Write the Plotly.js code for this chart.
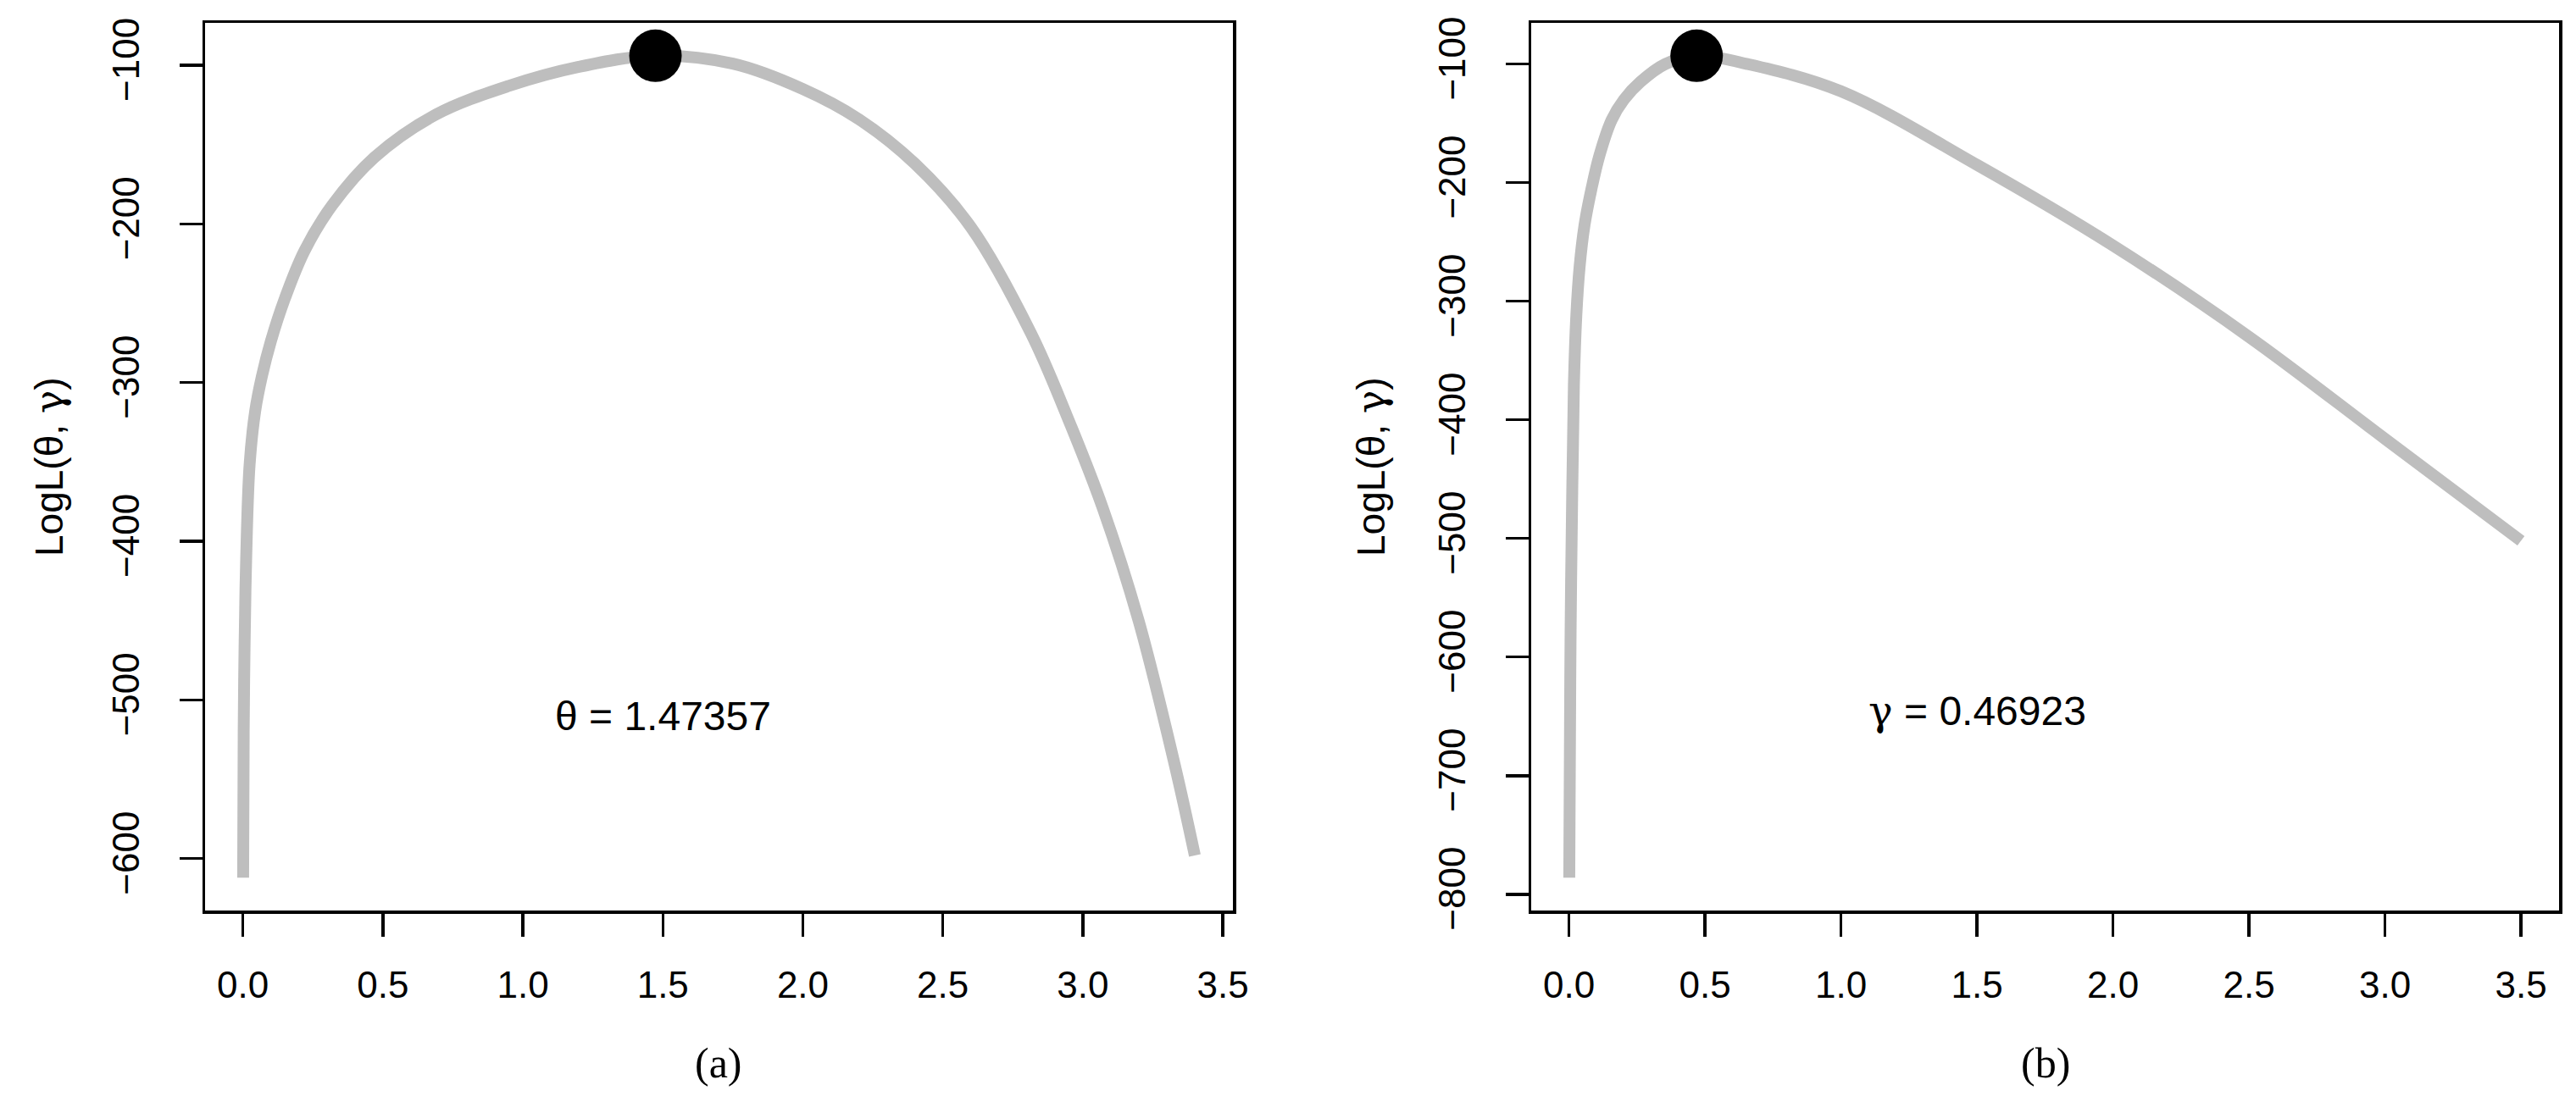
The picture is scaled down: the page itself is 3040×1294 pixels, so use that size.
<!DOCTYPE html>
<html>
<head>
<meta charset="utf-8">
<script src="https://cdn.plot.ly/plotly-3.0.1.min.js"></script>
<style>
  body { margin: 0; background: #fff; }
  #chart { width: 3040px; height: 1294px; }
</style>
</head>
<body>
<div id="chart"></div>
<script>
// profile log-likelihood in theta (panel a)
let thetaVals = [0.001, 0.003, 0.006, 0.012, 0.024, 0.044, 0.068, 0.10, 0.15, 0.22, 0.32, 0.47, 0.69, 0.95, 1.20, 1.47, 1.75, 2.00, 2.20, 2.40, 2.60, 2.815, 2.943, 3.071, 3.199, 3.327, 3.40];
let logLTheta = [-612, -520, -468, -410, -352, -318, -296, -274, -247, -217, -188, -158, -131, -113, -101, -94, -99, -115, -134, -162, -202, -269, -321, -379, -450, -540, -598];

// profile log-likelihood in gamma (panel b)
let gammaVals = [0.001, 0.003, 0.006, 0.012, 0.018, 0.027, 0.039, 0.057, 0.082, 0.112, 0.157, 0.202, 0.263, 0.354, 0.469, 0.656, 1.0, 1.5, 2.0, 2.5, 3.0, 3.5];
let logLGamma = [-786, -695, -577, -459, -371, -312, -271, -236, -206, -177, -147, -130, -115, -100, -93, -100, -123, -185, -253, -330, -416, -502];

// maximum likelihood estimates
let thetaHat = 1.47357;
let thetaMax = -94;
let gammaHat = 0.46923;
let gammaMax = -93;

let greek = s => '<span style="font-family:DejaVu Serif">' + s + '</span>';
let yLabel = 'LogL(θ, ' + greek('γ') + ')';

// R style range: data range padded by 4% on both sides
function rRange(v) {
  let lo = Math.min(...v), hi = Math.max(...v);
  let pad = 0.04 * (hi - lo);
  return [lo - pad, hi + pad];
}

let sans = 'Liberation Sans, Arial, sans-serif';
let tickFont = { family: sans, size: 44, color: '#000' };

function axisStyle(extra) {
  return Object.assign({
    showline: true,
    mirror: true,
    linecolor: '#000',
    linewidth: 3.5,
    showgrid: false,
    zeroline: false,
    ticks: 'outside',
    ticklen: 27,
    tickwidth: 3.5,
    tickcolor: '#000',
    tickfont: tickFont,
    fixedrange: true
  }, extra);
}

let curveLine = { color: '#bebebe', width: 14, shape: 'spline', smoothing: 1.0 };

let data = [
  {
    x: thetaVals, y: logLTheta, type: 'scatter', mode: 'lines',
    line: curveLine, xaxis: 'x', yaxis: 'y'
  },
  {
    x: [thetaHat], y: [thetaMax], type: 'scatter', mode: 'markers',
    marker: { color: '#000', size: 62 }, xaxis: 'x', yaxis: 'y'
  },
  {
    x: gammaVals, y: logLGamma, type: 'scatter', mode: 'lines',
    line: curveLine, xaxis: 'x2', yaxis: 'y2'
  },
  {
    x: [gammaHat], y: [gammaMax], type: 'scatter', mode: 'markers',
    marker: { color: '#000', size: 62 }, xaxis: 'x2', yaxis: 'y2'
  }
];

let yTop = (1294 - 27) / 1294;
let yBot = (1294 - 1075) / 1294;

let layout = {
  width: 3040,
  height: 1294,
  margin: { l: 0, r: 0, t: 0, b: 0 },
  paper_bgcolor: '#fff',
  plot_bgcolor: '#fff',
  showlegend: false,
  xaxis: axisStyle({
    domain: [242 / 3040, 1455 / 3040], anchor: 'y',
    range: rRange(thetaVals), tick0: 0, dtick: 0.5, tickformat: '.1f',
    ticklabelstandoff: 20
  }),
  yaxis: axisStyle({
    domain: [yBot, yTop], anchor: 'x',
    range: rRange(logLTheta.concat([thetaMax])), tick0: 0, dtick: 100,
    tickangle: -90, ticklabelstandoff: 30
  }),
  xaxis2: axisStyle({
    domain: [1807 / 3040, 3020 / 3040], anchor: 'y2',
    range: rRange(gammaVals), tick0: 0, dtick: 0.5, tickformat: '.1f',
    ticklabelstandoff: 20
  }),
  yaxis2: axisStyle({
    domain: [yBot, yTop], anchor: 'x2',
    range: rRange(logLGamma.concat([gammaMax])), tick0: 0, dtick: 100,
    tickangle: -90, ticklabelstandoff: 30
  }),
  annotations: [
    {
      text: 'θ = ' + thetaHat, x: 1.5, y: -510, xref: 'x', yref: 'y',
      showarrow: false, font: { family: sans, size: 48, color: '#000' }
    },
    {
      text: greek('γ') + ' = ' + gammaHat, x: 1.5, y: -645, xref: 'x2', yref: 'y2',
      showarrow: false, font: { family: sans, size: 48, color: '#000' }
    },
    {
      text: yLabel, x: 58 / 3040, y: (1294 - 551) / 1294, xref: 'paper', yref: 'paper',
      textangle: -90, showarrow: false, xanchor: 'center', yanchor: 'middle',
      font: { family: sans, size: 46, color: '#000' }
    },
    {
      text: yLabel, x: 1618 / 3040, y: (1294 - 551) / 1294, xref: 'paper', yref: 'paper',
      textangle: -90, showarrow: false, xanchor: 'center', yanchor: 'middle',
      font: { family: sans, size: 46, color: '#000' }
    },
    {
      text: '(a)', x: (242 + 1455) / 2 / 3040, y: (1294 - 1255) / 1294, xref: 'paper', yref: 'paper',
      showarrow: false, xanchor: 'center', yanchor: 'middle',
      font: { family: 'Liberation Serif, Times New Roman, serif', size: 50, color: '#000' }
    },
    {
      text: '(b)', x: (1807 + 3020) / 2 / 3040, y: (1294 - 1255) / 1294, xref: 'paper', yref: 'paper',
      showarrow: false, xanchor: 'center', yanchor: 'middle',
      font: { family: 'Liberation Serif, Times New Roman, serif', size: 50, color: '#000' }
    }
  ]
};

Plotly.newPlot('chart', data, layout, { staticPlot: true });
</script>
</body>
</html>
